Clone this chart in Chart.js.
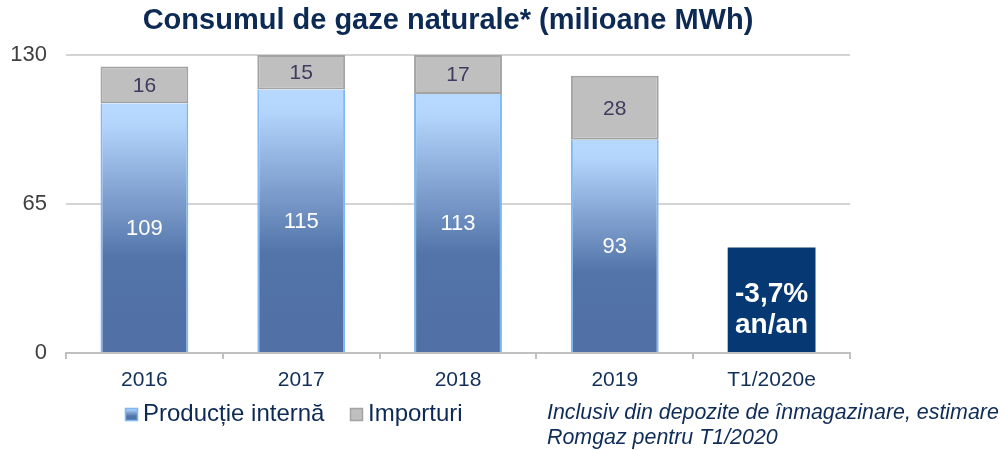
<!DOCTYPE html>
<html>
<head>
<meta charset="utf-8">
<script src="https://cdn.jsdelivr.net/npm/chart.js@4/dist/chart.umd.min.js"></script>
<style>
  html, body { margin: 0; padding: 0; background: #ffffff; }
  #wrap { width: 1004px; height: 450px; position: relative; }
</style>
</head>
<body>
<div id="wrap"><canvas id="c" width="1004" height="450"></canvas></div>
<script>
const categories = ['2016', '2017', '2018', '2019', 'T1/2020e'];
const productieInterna = [109, 115, 113, 93, null];
const importuri = [16, 15, 17, 28, null];
const t1Box = [null, null, null, null, 46];
const t1BoxText = ['-3,7%', 'an/an'];
const yTicks = [0, 65, 130];
const titleText = 'Consumul de gaze naturale* (milioane MWh)';
const footnoteLines = ['Inclusiv din depozite de înmagazinare, estimare', 'Romgaz pentru T1/2020'];
const seriesNames = ['Producție internă', 'Importuri'];

const NAVY = '#0d2a55';
const FONT = '"Liberation Sans", Arial, sans-serif';

function prodGradient(c, top, base) {
  const g = c.createLinearGradient(0, top, 0, base);
  g.addColorStop(0, '#b8d9ff');
  g.addColorStop(0.08, '#b4d5fc');
  g.addColorStop(0.62, '#5374a9');
  g.addColorStop(1, '#5070a5');
  return g;
}

const overlay = {
  id: 'overlay',
  afterDatasetsDraw(chart) {
    const c = chart.ctx;
    c.save();
    c.textAlign = 'center';
    c.textBaseline = 'middle';
    const m0 = chart.getDatasetMeta(0);
    m0.data.forEach((el, i) => {
      const v = productieInterna[i];
      if (v == null) return;
      c.fillStyle = '#ffffff';
      c.font = '22px ' + FONT;
      c.fillText(String(v), el.x, (el.y + el.base) / 2 + 1);
    });
    const m1 = chart.getDatasetMeta(1);
    m1.data.forEach((el, i) => {
      const v = importuri[i];
      if (v == null) return;
      c.fillStyle = '#3f3a5e';
      c.font = '21px ' + FONT;
      c.fillText(String(v), el.x, (el.y + el.base) / 2 + 1);
    });
    const m2 = chart.getDatasetMeta(2);
    m2.data.forEach((el, i) => {
      if (t1Box[i] == null) return;
      c.fillStyle = '#ffffff';
      c.font = 'bold 28px ' + FONT;
      c.textBaseline = 'alphabetic';
      const mid = (el.y + el.base) / 2;
      c.fillText(t1BoxText[0], el.x, mid + 2);
      c.fillText(t1BoxText[1], el.x, mid + 33);
    });
    c.restore();
  },
  afterDraw(chart) {
    const c = chart.ctx;
    c.save();
    c.fillStyle = NAVY;
    c.font = 'bold 29px ' + FONT;
    c.textAlign = 'center';
    c.textBaseline = 'alphabetic';
    c.fillText(titleText, 448, 29);
    c.textAlign = 'left';
    c.textBaseline = 'middle';
    c.font = '24px ' + FONT;
    c.fillStyle = prodGradient(c, 408, 421);
    c.fillRect(125, 408, 13, 13);
    c.strokeStyle = '#7db8f5';
    c.lineWidth = 1.5;
    c.strokeRect(125.5, 408.5, 12, 12);
    c.fillStyle = NAVY;
    c.fillText(seriesNames[0], 143, 414);
    c.fillStyle = '#bfbfbf';
    c.fillRect(350, 408, 13, 13);
    c.strokeStyle = '#a3a3a3';
    c.strokeRect(350.5, 408.5, 12, 12);
    c.fillStyle = NAVY;
    c.fillText(seriesNames[1], 368, 414);
    c.font = 'italic 21.4px ' + FONT;
    c.fillStyle = '#0f2c58';
    c.fillText(footnoteLines[0], 547, 413);
    c.fillText(footnoteLines[1], 547, 438);
    c.restore();
  }
};

new Chart(document.getElementById('c'), {
  type: 'bar',
  data: {
    labels: categories,
    datasets: [
      {
        label: seriesNames[0],
        data: productieInterna,
        stack: 's',
        backgroundColor: (ctx) => {
          const chart = ctx.chart;
          const y = chart.scales && chart.scales.y;
          const v = ctx.raw;
          if (!y || v == null || ctx.type !== 'data') return '#5374a9';
          const top = y.getPixelForValue(v);
          const base = y.getPixelForValue(0);
          if (!isFinite(top) || !isFinite(base) || top === base) return '#5374a9';
          return prodGradient(chart.ctx, top, base);
        },
        borderColor: '#7db8f5',
        borderWidth: { left: 2, right: 2, top: 0, bottom: 0 },
        borderSkipped: false
      },
      {
        label: seriesNames[1],
        data: importuri,
        stack: 's',
        backgroundColor: '#bfbfbf',
        borderColor: '#a3a3a3',
        borderWidth: 2,
        borderSkipped: false
      },
      {
        label: 'box',
        data: t1Box,
        stack: 's',
        backgroundColor: '#063874',
        borderWidth: 0
      }
    ]
  },
  options: {
    animation: false,
    responsive: false,
    devicePixelRatio: 1,
    layout: { padding: { left: 0, right: 154, top: 55, bottom: 0 } },
    datasets: { bar: { categoryPercentage: 1, barPercentage: 0.56 } },
    plugins: {
      legend: { display: false },
      title: { display: false },
      tooltip: { enabled: false }
    },
    scales: {
      x: {
        stacked: true,
        offset: true,
        grid: {
          offset: true,
          drawOnChartArea: false,
          drawTicks: true,
          tickLength: 6,
          color: '#c0c0c0',
          lineWidth: 2
        },
        border: { display: true, color: '#c0c0c0', width: 2 },
        ticks: {
          color: '#12305a',
          font: { family: FONT, size: 21 },
          padding: 9,
          maxRotation: 0
        },
        afterFit(scale) { scale.height = 97; }
      },
      y: {
        stacked: true,
        min: 0,
        max: 130,
        afterBuildTicks(scale) { scale.ticks = yTicks.map(v => ({ value: v })); },
        grid: { drawTicks: false, color: '#d4d4d4', lineWidth: 2 },
        border: { display: false },
        ticks: {
          color: '#404040',
          font: { family: FONT, size: 22 },
          padding: 19
        },
        afterFit(scale) { scale.width = 66; }
      }
    }
  },
  plugins: [overlay]
});
</script>
</body>
</html>
